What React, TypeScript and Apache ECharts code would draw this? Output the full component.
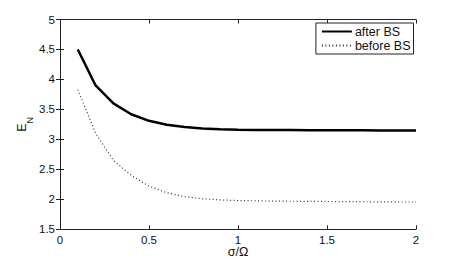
import React, { useEffect, useRef } from "react";
import * as echarts from "echarts";

const xValues = [0.1, 0.2, 0.3, 0.4, 0.5, 0.6, 0.7, 0.8, 0.9, 1.0, 1.1, 1.2, 1.3, 1.4, 1.5, 1.6, 1.7, 1.8, 1.9, 2.0];
const afterBS = [4.5, 3.9, 3.6, 3.42, 3.31, 3.245, 3.205, 3.18, 3.168, 3.162, 3.158, 3.156, 3.155, 3.154, 3.153, 3.152, 3.151, 3.15, 3.149, 3.148];
const beforeBS = [3.83, 3.1, 2.65, 2.4, 2.22, 2.11, 2.045, 2.01, 1.99, 1.98, 1.975, 1.97, 1.968, 1.966, 1.964, 1.962, 1.96, 1.958, 1.956, 1.955];
const seriesNames = ["after BS", "before BS"];

export default function App() {
  const ref = useRef<HTMLDivElement>(null);
  useEffect(() => {
    if (!ref.current) return;
    const chart = echarts.init(ref.current, null, { renderer: "svg" });
    const font = "Liberation Sans, Arial, sans-serif";
    const axisLine = { show: true, lineStyle: { color: "#222", width: 1 } };
    chart.setOption({
      animation: false,
      backgroundColor: "#fff",
      textStyle: { fontFamily: font },
      grid: { left: 60, right: 44, top: 19.5, bottom: 29.7, outerBoundsMode: "none", containLabel: false },
      legend: {
        right: 46.5,
        top: 23,
        orient: "vertical",
        itemWidth: 30,
        itemHeight: 8,
        itemGap: 1,
        padding: [2, 3, 2, 5],
        borderColor: "#222",
        borderWidth: 1,
        backgroundColor: "#fff",
        itemStyle: { opacity: 0 },
        textStyle: { fontSize: 12.5, color: "#111", fontFamily: font, padding: [0, 0, 0, -2] },
        data: seriesNames,
      },
      xAxis: [
        {
          type: "value",
          min: 0,
          max: 2,
          interval: 0.5,
          name: "σ/Ω",
          nameLocation: "middle",
          nameGap: 16,
          nameMoveOverlap: false,
          nameTextStyle: { fontSize: 12.5, color: "#111", fontFamily: font, verticalAlign: "top" },
          axisLine,
          axisTick: { inside: true, length: 4, lineStyle: { color: "#222" } },
          axisLabel: { fontSize: 11.5, color: "#111", margin: 5 },
          splitLine: { show: false },
        },
        {
          type: "value",
          position: "top",
          min: 0,
          max: 2,
          interval: 0.5,
          axisLine,
          axisTick: { inside: true, length: 4, lineStyle: { color: "#222" } },
          axisLabel: { show: false },
          splitLine: { show: false },
        },
      ],
      yAxis: [
        {
          type: "value",
          min: 1.5,
          max: 5,
          interval: 0.5,
          name: "{b|E}{s|N}",
          nameLocation: "middle",
          nameGap: 32,
          nameMoveOverlap: false,
          nameRotate: 90,
          nameTextStyle: {
            rich: {
              b: { fontSize: 12.5, color: "#111", fontFamily: font },
              s: { fontSize: 9, color: "#111", fontFamily: font, verticalAlign: "bottom", padding: [0, 0, -6, 0] },
            },
          },
          axisLine,
          axisTick: { inside: true, length: 4, lineStyle: { color: "#222" } },
          axisLabel: { fontSize: 11.5, color: "#111", margin: 5 },
          splitLine: { show: false },
        },
        {
          type: "value",
          position: "right",
          min: 1.5,
          max: 5,
          interval: 0.5,
          axisLine,
          axisTick: { inside: true, length: 4, lineStyle: { color: "#222" } },
          axisLabel: { show: false },
          splitLine: { show: false },
        },
      ],
      series: [
        {
          name: seriesNames[0],
          type: "line",
          data: xValues.map((x, i) => [x, afterBS[i]]),
          showSymbol: false,
          symbol: "none",
          lineStyle: { color: "#000", width: 2.5, type: "solid" },
          itemStyle: { color: "#000" },
        },
        {
          name: seriesNames[1],
          type: "line",
          data: xValues.map((x, i) => [x, beforeBS[i]]),
          showSymbol: false,
          symbol: "none",
          lineStyle: { color: "#333", width: 1.2, type: [1, 2.5] },
          itemStyle: { color: "#333" },
        },
      ],
    });
    return () => chart.dispose();
  }, []);
  return <div ref={ref} style={{ position: "fixed", left: 0, top: 0, width: 460, height: 259 }} />;
}
